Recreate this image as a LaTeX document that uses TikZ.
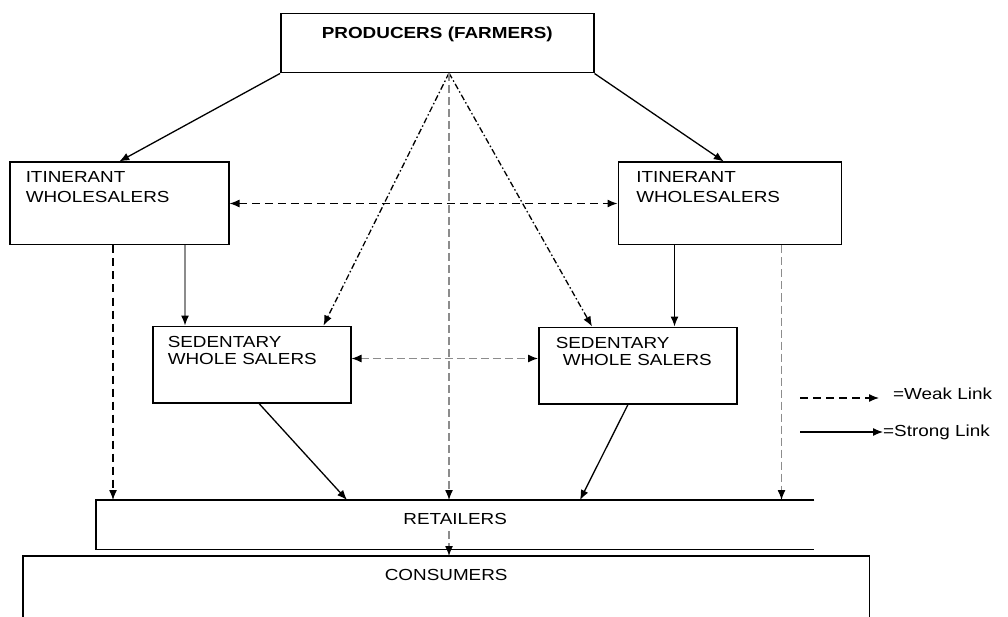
\documentclass[tikz,border=0pt]{standalone}
\usepackage{fontspec}
\setmainfont{Liberation Sans}[FakeStretch=1.18]
\usetikzlibrary{arrows.meta}
\definecolor{linkgray}{gray}{0.55}

\begin{document}
\begin{tikzpicture}[x=1pt,y=-1pt,
every node/.style = {
font           = \fontsize{16}{19.3}\selectfont,
text           = black},
firm/.style = {
shape          = rectangle,
draw,
line width     = 1.5pt,
anchor         = north west,
align          = left,
inner xsep     = 16pt,
inner ysep     = 9pt,
text height    = 11.5pt},
open firm/.style = {
shape          = rectangle,
anchor         = north west,
inner xsep     = 0pt,
inner ysep     = 13pt,
text height    = 11.5pt,
text depth     = 11.5pt},
strong link/.style  = {-{Latex[length=10pt,width=8pt,color=black]},
line width = 1.3pt,
black},
weak link/.style    = {strong link,
dash pattern = on 8pt off 5pt},
dotted link/.style  = {strong link,
dash pattern = on 6pt off 2.5pt on 1.5pt off 2.5pt},
gray link/.style    = {strong link,
linkgray},
gray weak link/.style = {gray link,
dash pattern = on 8pt off 4pt}
]
\useasboundingbox (0,0) rectangle (1008,617);
%
\node[firm, align=center, text width=281pt, inner ysep=13pt, text depth=21.5pt,
font=\fontsize{16}{19.3}\selectfont\bfseries] (prod) at (280,13) {PRODUCERS (FARMERS)};
\node[firm, text width=187pt, text depth=53pt] (itinL) at (9,161.5) {ITINERANT\\WHOLESALERS};
\node[firm, inner xsep=18pt, text width=187pt, text depth=53pt] (itinR) at (617.5,161.5) {ITINERANT\\WHOLESALERS};
\node[firm, font=\fontsize{16}{17}\selectfont, inner xsep=15pt, inner ysep=10pt,
text width=168pt, text depth=45pt] (sedL) at (152,325.5) {SEDENTARY\\WHOLE SALERS};
\node[firm, font=\fontsize{16}{17}\selectfont, inner xsep=17pt, inner ysep=10pt,
text width=164pt, text depth=45pt] (sedR) at (538,326.5) {SEDENTARY\\\hspace*{7pt}WHOLE SALERS};
\node[open firm, minimum width=718pt] (ret) at (96,500) {RETAILERS};
\node[open firm, minimum width=846pt, inner ysep=12.5pt, text depth=24.5pt] (cons) at (23,556) {CONSUMERS};
\node[anchor=west, inner sep=0pt] (weak) at (893,394) {=Weak Link};
\node[anchor=west, inner sep=0pt] (strong) at (883,432) {=Strong Link};
%
\coordinate (apex) at (449,73);
\coordinate (retfoot) at (449,531);
\coordinate (wk1) at (800,398);
\coordinate (wk2) at (879,398);
\coordinate (st1) at (800,432);
%
\draw[line width=1.5pt] (ret.north east) -- (ret.north west) -- (ret.south west) -- (ret.south east);
\draw[line width=1.5pt] (cons.south west) -- (cons.north west) -- (cons.north east) -- (cons.south east);
%
\draw[strong link] (prod.south west) -- (itinL.north);
\draw[strong link] (prod.south east) -- ([xshift=-6pt]itinR.north);
\draw[dotted link] (apex) -- ([xshift=-28pt]sedL.north east);
\draw[dotted link] (apex) -- ([xshift=54pt]sedR.north west);
\draw[gray weak link] (apex) -- (apex |- ret.north);
\draw[weak link, {Latex[length=10pt,width=8pt]}-{Latex[length=10pt,width=8pt]}] (itinL.east) -- (itinR.west);
\draw[weak link] ([xshift=104pt]itinL.south west) -- ([xshift=104pt]itinL.south west |- ret.north);
\draw[gray link] ([xshift=176pt]itinL.south west) -- ([xshift=176pt]itinL.south west |- sedL.north);
\draw[strong link] ([xshift=57pt]itinR.south west) -- ([xshift=57pt]itinR.south west |- sedR.north);
\draw[gray weak link] ([xshift=164pt]itinR.south west) -- ([xshift=164pt]itinR.south west |- ret.north);
\draw[gray weak link, {Latex[length=10pt,width=8pt,color=black]}-{Latex[length=10pt,width=8pt,color=black]}]
([yshift=6pt]sedL.east) -- ([yshift=6pt]sedL.east -| sedR.west);
\draw[strong link] ([xshift=107pt]sedL.south west) -- ([xshift=251pt]ret.north west);
\draw[strong link] ([xshift=90pt]sedR.south west) -- ([xshift=484pt]ret.north west);
\draw[gray weak link] (retfoot) -- (retfoot |- cons.north);
%
\draw[weak link] (wk1) -- (wk2);
\draw[strong link] (st1) -- (strong.west);
%
\end{tikzpicture}
\end{document}
